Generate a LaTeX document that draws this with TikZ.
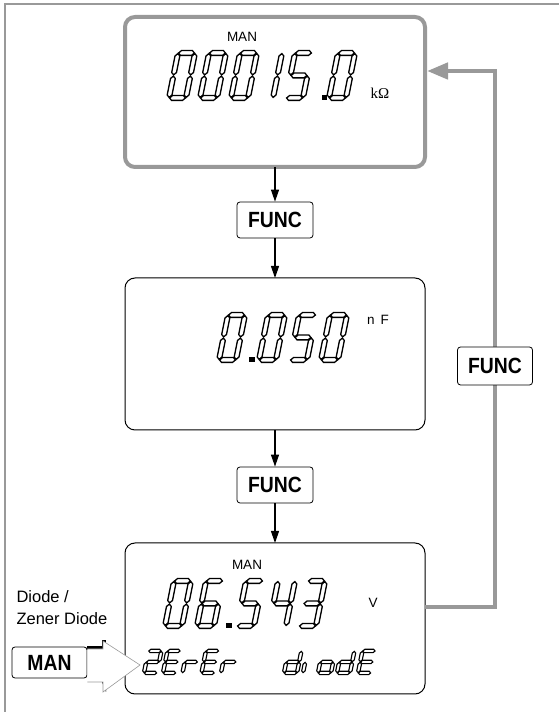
\documentclass[tikz,border=0pt]{standalone}
\usepackage{fontspec}
\setmainfont{Liberation Sans}
\newfontfamily\keyfont{Liberation Sans}[FakeStretch=0.88]
\newfontfamily\serf{Liberation Serif}
\usepackage{xcolor}
\usetikzlibrary{arrows.meta, positioning, calc}
\definecolor{lcdgray}{RGB}{153,153,153}

% seven segment digits
\def\dw{17}\def\dh{45}\def\dm{22.5}\def\dt{2.4}\def\dg{0.6}
\newcommand\hseg[1]{\draw[seg] (\dg,#1) -- ({\dg+\dt},{#1+\dt}) -- ({\dw-\dg-\dt},{#1+\dt}) -- ({\dw-\dg},#1) -- ({\dw-\dg-\dt},{#1-\dt}) -- ({\dg+\dt},{#1-\dt}) -- cycle;}
\newcommand\vseg[3]{\draw[seg] (#1,{#2+\dg}) -- ({#1+\dt},{#2+\dg+\dt}) -- ({#1+\dt},{#3-\dg-\dt}) -- (#1,{#3-\dg}) -- ({#1-\dt},{#3-\dg-\dt}) -- ({#1-\dt},{#2+\dg+\dt}) -- cycle;}
\def\sga{\hseg{\dh}}
\def\sgb{\vseg{\dw}{\dm}{\dh}}
\def\sgc{\vseg{\dw}{0}{\dm}}
\def\sgd{\hseg{0}}
\def\sge{\vseg{0}{0}{\dm}}
\def\sgf{\vseg{0}{\dm}{\dh}}
\def\sgg{\hseg{\dm}}
\newcommand\lcd[3]{\begin{scope}[shift={(#1,#2)}, xslant=0.2]
  \foreach \s in {#3} {\csname sg\s\endcsname}
\end{scope}}
\newcommand\lcddot[2]{\fill (#1,#2) rectangle ++(5.5,5.5);}

\begin{document}
\begin{tikzpicture}[x=1pt, y=1pt,
  seg/.style={draw=black, fill=white, line width=1.3pt},
  display/.style={draw, rounded corners=10pt, minimum width=300pt, outer sep=0pt, inner sep=0pt},
  key/.style={draw, fill=white, rounded corners=3pt, line width=0.8pt, minimum width=76pt, minimum height=36pt, inner sep=0pt, font=\keyfont\bfseries\fontsize{22}{22}\selectfont},
  flow/.style={-{Triangle[length=12pt, width=8pt]}, line width=1.2pt},
  back/.style={-{Triangle[length=21pt, width=16pt]}, draw=lcdgray, line width=4.5pt},
  small/.style={font=\fontsize{13.5}{13.5}\selectfont}]
  \useasboundingbox (0,0) rectangle (559,712);
  \draw[lcdgray, line width=1.2pt] (5,0) -- (5,708) -- (559,708);

  \node[display, draw=lcdgray, line width=4pt, minimum height=150pt] (disp1) at (275,620) {};
  \node[display, line width=1pt, minimum height=152pt] (disp2) at (275,358) {};
  \node[display, line width=1pt, minimum height=151pt] (disp3) at (275,93.5) {};

  \node[key] (func1) at (275,492) {FUNC};
  \node[key] (func2) at (275,227) {FUNC};
  \draw[flow] (disp1) -- (func1);
  \draw[flow] (func1) -- (disp2);
  \draw[flow] (disp2) -- (func2);
  \draw[flow] (func2) -- (disp3);

  \coordinate (turn) at (495,641);
  \draw[back] ([yshift=11.5pt]disp3.east) -| (turn) -- ([xshift=2pt]disp1.east |- turn);
  \node[key, minimum width=75pt, minimum height=38pt] (func3) at (495,346) {FUNC};

  % display contents
  \node[small] (man1) at (242,675) {MAN};
  \lcd{169}{614}{a,b,c,d,e,f} \lcd{200}{614}{a,b,c,d,e,f} \lcd{231}{614}{a,b,c,d,e,f}
  \lcd{256}{614}{b,c} \lcd{286}{614}{a,f,g,c,d} \lcddot{321.5}{611.5} \lcd{329}{614}{a,b,c,d,e,f}
  \node[font=\serf\fontsize{15}{15}\selectfont] (unit1) at (380,619) {kΩ};

  \lcd{219}{352}{a,b,c,d,e,f} \lcddot{249}{349.5} \lcd{259}{352}{a,b,c,d,e,f}
  \lcd{290}{352}{a,f,g,c,d} \lcd{321}{352}{a,b,c,d,e,f}
  \node[small] (unit2) at (378,392) {n\hspace{6pt}F};

  \node[small] (man3) at (247,147) {MAN};
  \lcd{165}{86}{a,b,c,d,e,f} \lcd{197}{86}{a,f,g,e,d,c} \lcddot{226}{83.5}
  \lcd{237}{86}{a,f,g,c,d} \lcd{269}{86}{f,g,b,c} \lcd{299}{86}{a,b,g,c,d}
  \node[small] (unit3) at (373,109) {V};

  {\def\dw{13}\def\dh{22}\def\dm{11}\def\dt{1.7}\def\dg{0.4}
  \tikzset{seg/.append style={line width=1.1pt}}
  \lcd{144}{39}{a,b,g,e,d} \lcd{163}{39}{a,f,g,e,d} \lcd{182.5}{39}{e,g} \lcd{201.5}{39}{a,f,g,e,d} \lcd{221}{39}{e,g}
  \lcd{284}{39}{b,c,d,e,g} \lcd{303}{39}{e} \lcd{318}{39}{c,d,e,g} \lcd{337}{39}{b,c,d,e,g} \lcd{358}{39}{a,f,g,e,d}}

  % mode key
  \node[anchor=west, font=\fontsize{16.5}{16.5}\selectfont] (lbl1) at (13,115) {Diode /};
  \node[anchor=west, font=\fontsize{16.5}{16.5}\selectfont] (lbl2) at (13,93) {Zener Diode};
  \node[key, minimum width=75pt, minimum height=31pt] (mankey) at (49.5,49.5) {MAN};
  \fill (mankey.east |- 0,62) rectangle (106,66);
  \fill (102,62) rectangle (106,72);
  \fill (102,30) -- (106,30) -- (106,20) -- cycle;
  \draw[lcdgray, fill=white, line width=0.6pt] (mankey.east |- 0,63) -- (103,63) -- (103,71) -- (140,47) -- (103,20) -- (103,30) -- (mankey.east |- 0,30);
\end{tikzpicture}
\end{document}
